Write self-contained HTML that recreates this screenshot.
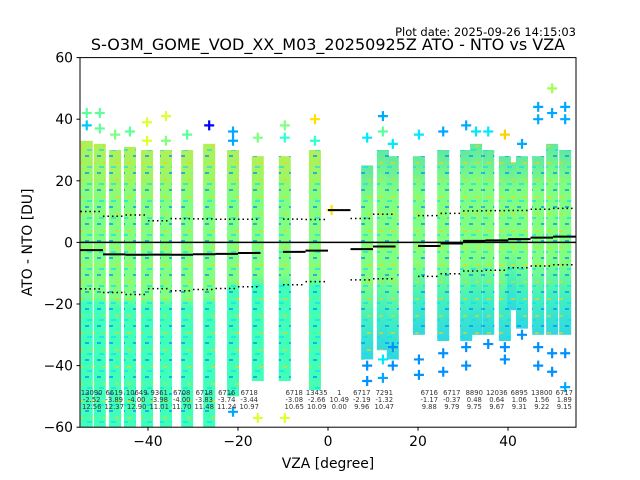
<!DOCTYPE html>
<html><head><meta charset="utf-8"><style>
body{margin:0;background:#fff;}
svg{display:block;font-family:"DejaVu Sans","Liberation Sans",sans-serif;}
</style></head><body>
<svg id="chart" width="640" height="480" viewBox="0 0 640 480">
<text x="576" y="36" font-size="11.5" text-anchor="end">Plot date: 2025-09-26 14:15:03</text>
<text x="328" y="50" font-size="16" text-anchor="middle">S-O3M_GOME_VOD_XX_M03_20250925Z ATO - NTO vs VZA</text>
<defs>
<clipPath id="clip"><rect x="80" y="57.6" width="496" height="369.6"/></clipPath>
<linearGradient id="gl" x1="0" y1="0" x2="0" y2="1">
<stop offset="0" stop-color="#b0f058"/><stop offset="0.12" stop-color="#98f868"/><stop offset="0.2" stop-color="#80ff80"/><stop offset="0.53" stop-color="#80ff80"/><stop offset="0.57" stop-color="#40ffb8"/><stop offset="1" stop-color="#40ffb8"/>
</linearGradient>
<linearGradient id="gr" x1="0" y1="0" x2="0" y2="1">
<stop offset="0" stop-color="#60e8a0"/><stop offset="0.2" stop-color="#80ff80"/><stop offset="0.6" stop-color="#80ff80"/><stop offset="0.8" stop-color="#40f0c0"/><stop offset="1" stop-color="#30d8e0"/>
</linearGradient>
<pattern id="speck" width="12" height="17" patternUnits="userSpaceOnUse">
<rect x="1" y="2" width="4" height="2" fill="#0090ff" opacity="0.7"/>
<rect x="7" y="9" width="4" height="2" fill="#ffd000" opacity="0.6"/>
<rect x="3" y="13" width="5" height="2" fill="#00e0ff" opacity="0.6"/>
</pattern>
</defs>
<g id="plot" clip-path="url(#clip)"></g>
<rect x="80" y="57.6" width="496" height="369.6" fill="none" stroke="#000" stroke-width="1"/>
<g id="axes"></g>
<text x="328" y="468" font-size="13.9" text-anchor="middle">VZA [degree]</text>
<text transform="translate(32,242.4) rotate(-90)" font-size="13.9" text-anchor="middle">ATO - NTO [DU]</text>
</svg>
<script>
const colX = [-53.6,-50.7,-47.3,-44.0,-40.2,-36.0,-31.3,-26.4,-21.1,-15.6,-9.6,-2.9,8.7,12.2,14.4,20.2,25.6,30.7,32.9,35.6,39.3,41.1,43.1,46.7,49.8,52.7];
const colBodyTop = [33,32,30,31,30,30,30,32,30,28,28,30,25,30,28,28,30,30,32,30,28,26,28,28,32,30];
const colBodyBottom = [-60,-60,-60,-60,-60,-60,-60,-60,-50,-45,-45,-48,-38,-35,-38,-30,-32,-32,-30,-30,-32,-22,-28,-30,-30,-30];
const outX = [-53.6,-53.6,-50.7,-50.7,-47.3,-44.0,-40.2,-40.2,-36.0,-36.0,-31.3,-26.4,-21.1,-21.1,-15.6,-9.6,-9.6,-2.9,-2.9,8.7,8.7,12.2,12.2,12.2,14.4,14.4,20.2,20.2,25.6,25.6,30.7,30.7,32.9,35.6,39.3,39.3,43.1,46.7,46.7,46.7,49.8,49.8,49.8,52.7,52.7,52.7,-15.6,-9.6,-21.1,0.8,8.7,12.2,20.2,25.6,30.7,39.3,43.1,46.7,49.8,52.7,14.4,35.6];
const outY = [42,38,42,37,35,36,39,33,41,33,35,38,36,33,34,38,34,40,33,34,-45,41,36,-44,32,-40,35,-43,36,-42,38,-40,36,36,35,-38,32,44,40,-40,50,42,-42,44,40,-47,-57,-57,-55,10.49,-40,-38,-38,-36,-34,-34,-30,-34,-36,-36,-34,-33];
const outC = ["#5cff9a","#00c8ff","#5cff9a","#5cff9a","#80ff80","#5cff9a","#e0ff30","#e0ff30","#e0ff30","#80ff80","#5cff9a","#0000ff","#00a8ff","#00a8ff","#80ff80","#80ff80","#30ffd0","#ffe000","#30ffd0","#00e8ff","#0090ff","#00a8ff","#5cff9a","#00a8ff","#00e8ff","#0090ff","#00e8ff","#0090ff","#00a8ff","#0090ff","#00a8ff","#0090ff","#00e8ff","#00e8ff","#ffd000","#0090ff","#00a8ff","#00a8ff","#00a8ff","#0090ff","#a0ff50","#00a8ff","#0090ff","#00a8ff","#00a8ff","#00a8ff","#e0ff30","#e0ff30","#00a8ff","#ffe000","#0090ff","#00e8ff","#0090ff","#0090ff","#0090ff","#0090ff","#0090ff","#0090ff","#0090ff","#0090ff","#0090ff","#0090ff"];
const binStart = [-55,-50,-45,-40,-35,-30,-25,-20,-10,-5,0,5,10,20,25,30,35,40,45,50];
const binCount = ["13090","6619","10649","9361","6708","6718","6716","6718","6718","13435","1","6717","7291","6716","6717","8890","12036","6895","13800","6717"];
const binMean = [-2.52,-3.89,-4.00,-3.98,-4.00,-3.83,-3.74,-3.44,-3.08,-2.66,10.49,-2.19,-1.32,-1.17,-0.37,0.48,0.64,1.06,1.56,1.89];
const binStd = [12.56,12.37,12.90,11.01,11.70,11.48,11.24,10.97,10.65,10.09,0.00,9.96,10.47,9.88,9.79,9.75,9.67,9.31,9.22,9.15];
const yTicks = [60,40,20,0,-20,-40,-60];
const xTicks = [-40,-20,0,20,40];

const NS = "http://www.w3.org/2000/svg";
const X0=-55.1, X1=55.1, Y0=-60, Y1=60;
function sx(v){return 80+(v-X0)/(X1-X0)*496;}
function sy(v){return 427.2-(v-Y0)/(Y1-Y0)*369.6;}
function mk(tag, attrs, parent){const e=document.createElementNS(NS,tag);for(const k in attrs)e.setAttribute(k,attrs[k]);parent.appendChild(e);return e;}
const plot=document.getElementById('plot');
const axes=document.getElementById('axes');

for(let i=0;i<colX.length;i++){
  const x=sx(colX[i]);const t=sy(colBodyTop[i]);const b=sy(colBodyBottom[i]);
  const r=mk('rect',{x:x-6,y:t,width:12,height:b-t,fill:colX[i]<0?'url(#gl)':'url(#gr)'},plot);
  
  
  const s=mk('rect',{x:x-6,y:t,width:12,height:b-t,fill:'url(#speck)'},plot);
  
  
}
for(let i=0;i<outX.length;i++){
  const x=sx(outX[i]),y=sy(outY[i]);
  const p=mk('path',{d:`M${x-5},${y}H${x+5}M${x},${y-5}V${y+5}`,stroke:outC[i],'stroke-width':2.2,fill:'none'},plot);
  
  
}
const z=mk('line',{x1:80,x2:576,y1:sy(0),y2:sy(0),stroke:'#000','stroke-width':1.5},plot);


for(let i=0;i<binStart.length;i++){
  const a=sx(binStart[i]),c=sx(binStart[i]+5),m=(a+c)/2;
  const ml=mk('line',{x1:a,x2:c,y1:sy(binMean[i]),y2:sy(binMean[i]),stroke:'#000','stroke-width':2},plot);
  
  
  [binMean[i]+binStd[i],binMean[i]-binStd[i]].forEach(v=>{
    const sl=mk('line',{x1:a,x2:c,y1:sy(v),y2:sy(v),stroke:'#000','stroke-width':1.5,'stroke-dasharray':'1.5,3'},plot);
    
    
  });
  const rows=[binCount[i],binMean[i].toFixed(2),binStd[i].toFixed(2)];
  rows.forEach((s,j)=>{
    const t=mk('text',{x:m,y:395+j*7,'font-size':6.8,fill:'#333','text-anchor':'middle'},plot);
    t.textContent=s;
    
    
  });
}
yTicks.forEach(v=>{
  const y=sy(v);
  const l=mk('line',{x1:76.5,x2:80,y1:y,y2:y,stroke:'#000','stroke-width':1},axes);
  
  
  const t=mk('text',{x:73,y:y+5,'font-size':13.9,'text-anchor':'end'},axes);
  t.textContent=String(v).replace('-','\u2212');
  
  
});
xTicks.forEach(v=>{
  const x=sx(v);
  const l=mk('line',{x1:x,x2:x,y1:427.2,y2:430.7,stroke:'#000','stroke-width':1},axes);
  
  
  const t=mk('text',{x:x,y:446,'font-size':13.9,'text-anchor':'middle'},axes);
  t.textContent=String(v).replace('-','\u2212');
  
  
});
</script>
</body></html>
